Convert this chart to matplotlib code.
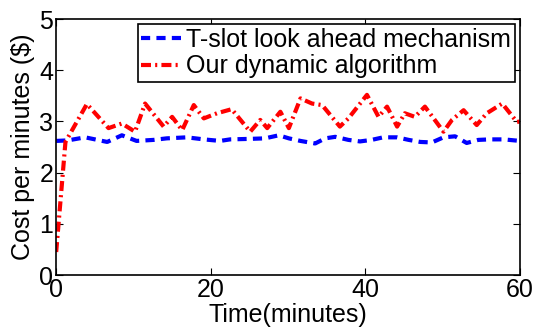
import matplotlib
matplotlib.use("Agg")
import matplotlib.pyplot as plt

plt.rcParams['font.family'] = ['Liberation Sans', 'DejaVu Sans']

# T-slot look ahead mechanism (blue)
blue_t = [0, 1.5, 3.75, 6.6, 8.5, 10.4, 12.6, 14.3, 16.9, 19.1, 21.2, 22.5, 25.1, 27.0,
          28.8, 30.1, 31.6, 33.5, 34.8, 36.1, 37.8, 39.3, 40.8, 42.3, 44.1, 45.6, 47.1,
          48.6, 50.1, 51.6, 53.1, 54.6, 56.1, 57.9, 60]
blue_cost = [2.62, 2.63, 2.69, 2.60, 2.73, 2.62, 2.64, 2.67, 2.69, 2.65, 2.62, 2.65, 2.66, 2.67,
             2.73, 2.67, 2.62, 2.57, 2.67, 2.70, 2.64, 2.61, 2.64, 2.69, 2.69, 2.64, 2.60,
             2.59, 2.69, 2.71, 2.58, 2.64, 2.65, 2.65, 2.62]

# Our dynamic algorithm (red)
red_t = [0, 1.2, 3.97, 6.77, 8.5, 10.2, 11.5, 13.9, 15.0, 16.3, 17.8, 19.1, 20.8, 22.7, 25.1,
         26.4, 27.3, 29.0, 30.1, 31.6, 33.1, 34.4, 36.7, 37.8, 40.2, 41.7, 42.8, 44.1, 45.1,
         46.4, 47.7, 50.1, 51.2, 52.7, 54.4, 55.7, 57.7, 59.6, 60]
red_cost = [0.45, 2.6, 3.34, 2.87, 2.96, 2.80, 3.35, 2.90, 3.09, 2.83, 3.32, 3.06, 3.16, 3.24, 2.80,
            3.03, 2.87, 3.19, 2.87, 3.45, 3.35, 3.32, 2.90, 3.06, 3.52, 3.09, 3.29, 2.90, 3.16,
            3.09, 3.29, 2.80, 3.03, 3.22, 2.93, 3.16, 3.35, 2.99, 3.0]

x_ticks = [0, 20, 40, 60]
y_ticks = [0, 1, 2, 3, 4, 5]

fig = plt.figure(figsize=(5.35, 3.29), dpi=100)
ax = fig.add_axes([0.105, 0.164, 0.867, 0.778])

ax.plot(blue_t, blue_cost, color='#0000ff', linestyle=(0, (2.2, 1.5)), linewidth=3,
        label='T-slot look ahead mechanism')
ax.plot(red_t, red_cost, color='#ff0000', linestyle=(0, (2.4, 1.0, 0.5, 1.0)), linewidth=3,
        label='Our dynamic algorithm')

ax.set_xlim(0, 60)
ax.set_ylim(0, 5)
ax.set_xticks(x_ticks)
ax.set_yticks(y_ticks)
ax.tick_params(direction='in', top=True, right=True, labelsize=18, length=5, pad=2)
for s in ax.spines.values():
    s.set_linewidth(1.2)

ax.set_xlabel('Time(minutes)', fontsize=18, labelpad=1)
ax.set_ylabel('Cost per minutes ($)', fontsize=18, labelpad=3)

leg = ax.legend(loc='upper right', fontsize=18, handlelength=1.6, handletextpad=0.2,
                borderpad=0.15, labelspacing=0.1, borderaxespad=0.2, fancybox=False,
                framealpha=1)
leg.get_frame().set_edgecolor('black')
leg.get_frame().set_linewidth(1.2)

fig.savefig('out.png', dpi=100)
